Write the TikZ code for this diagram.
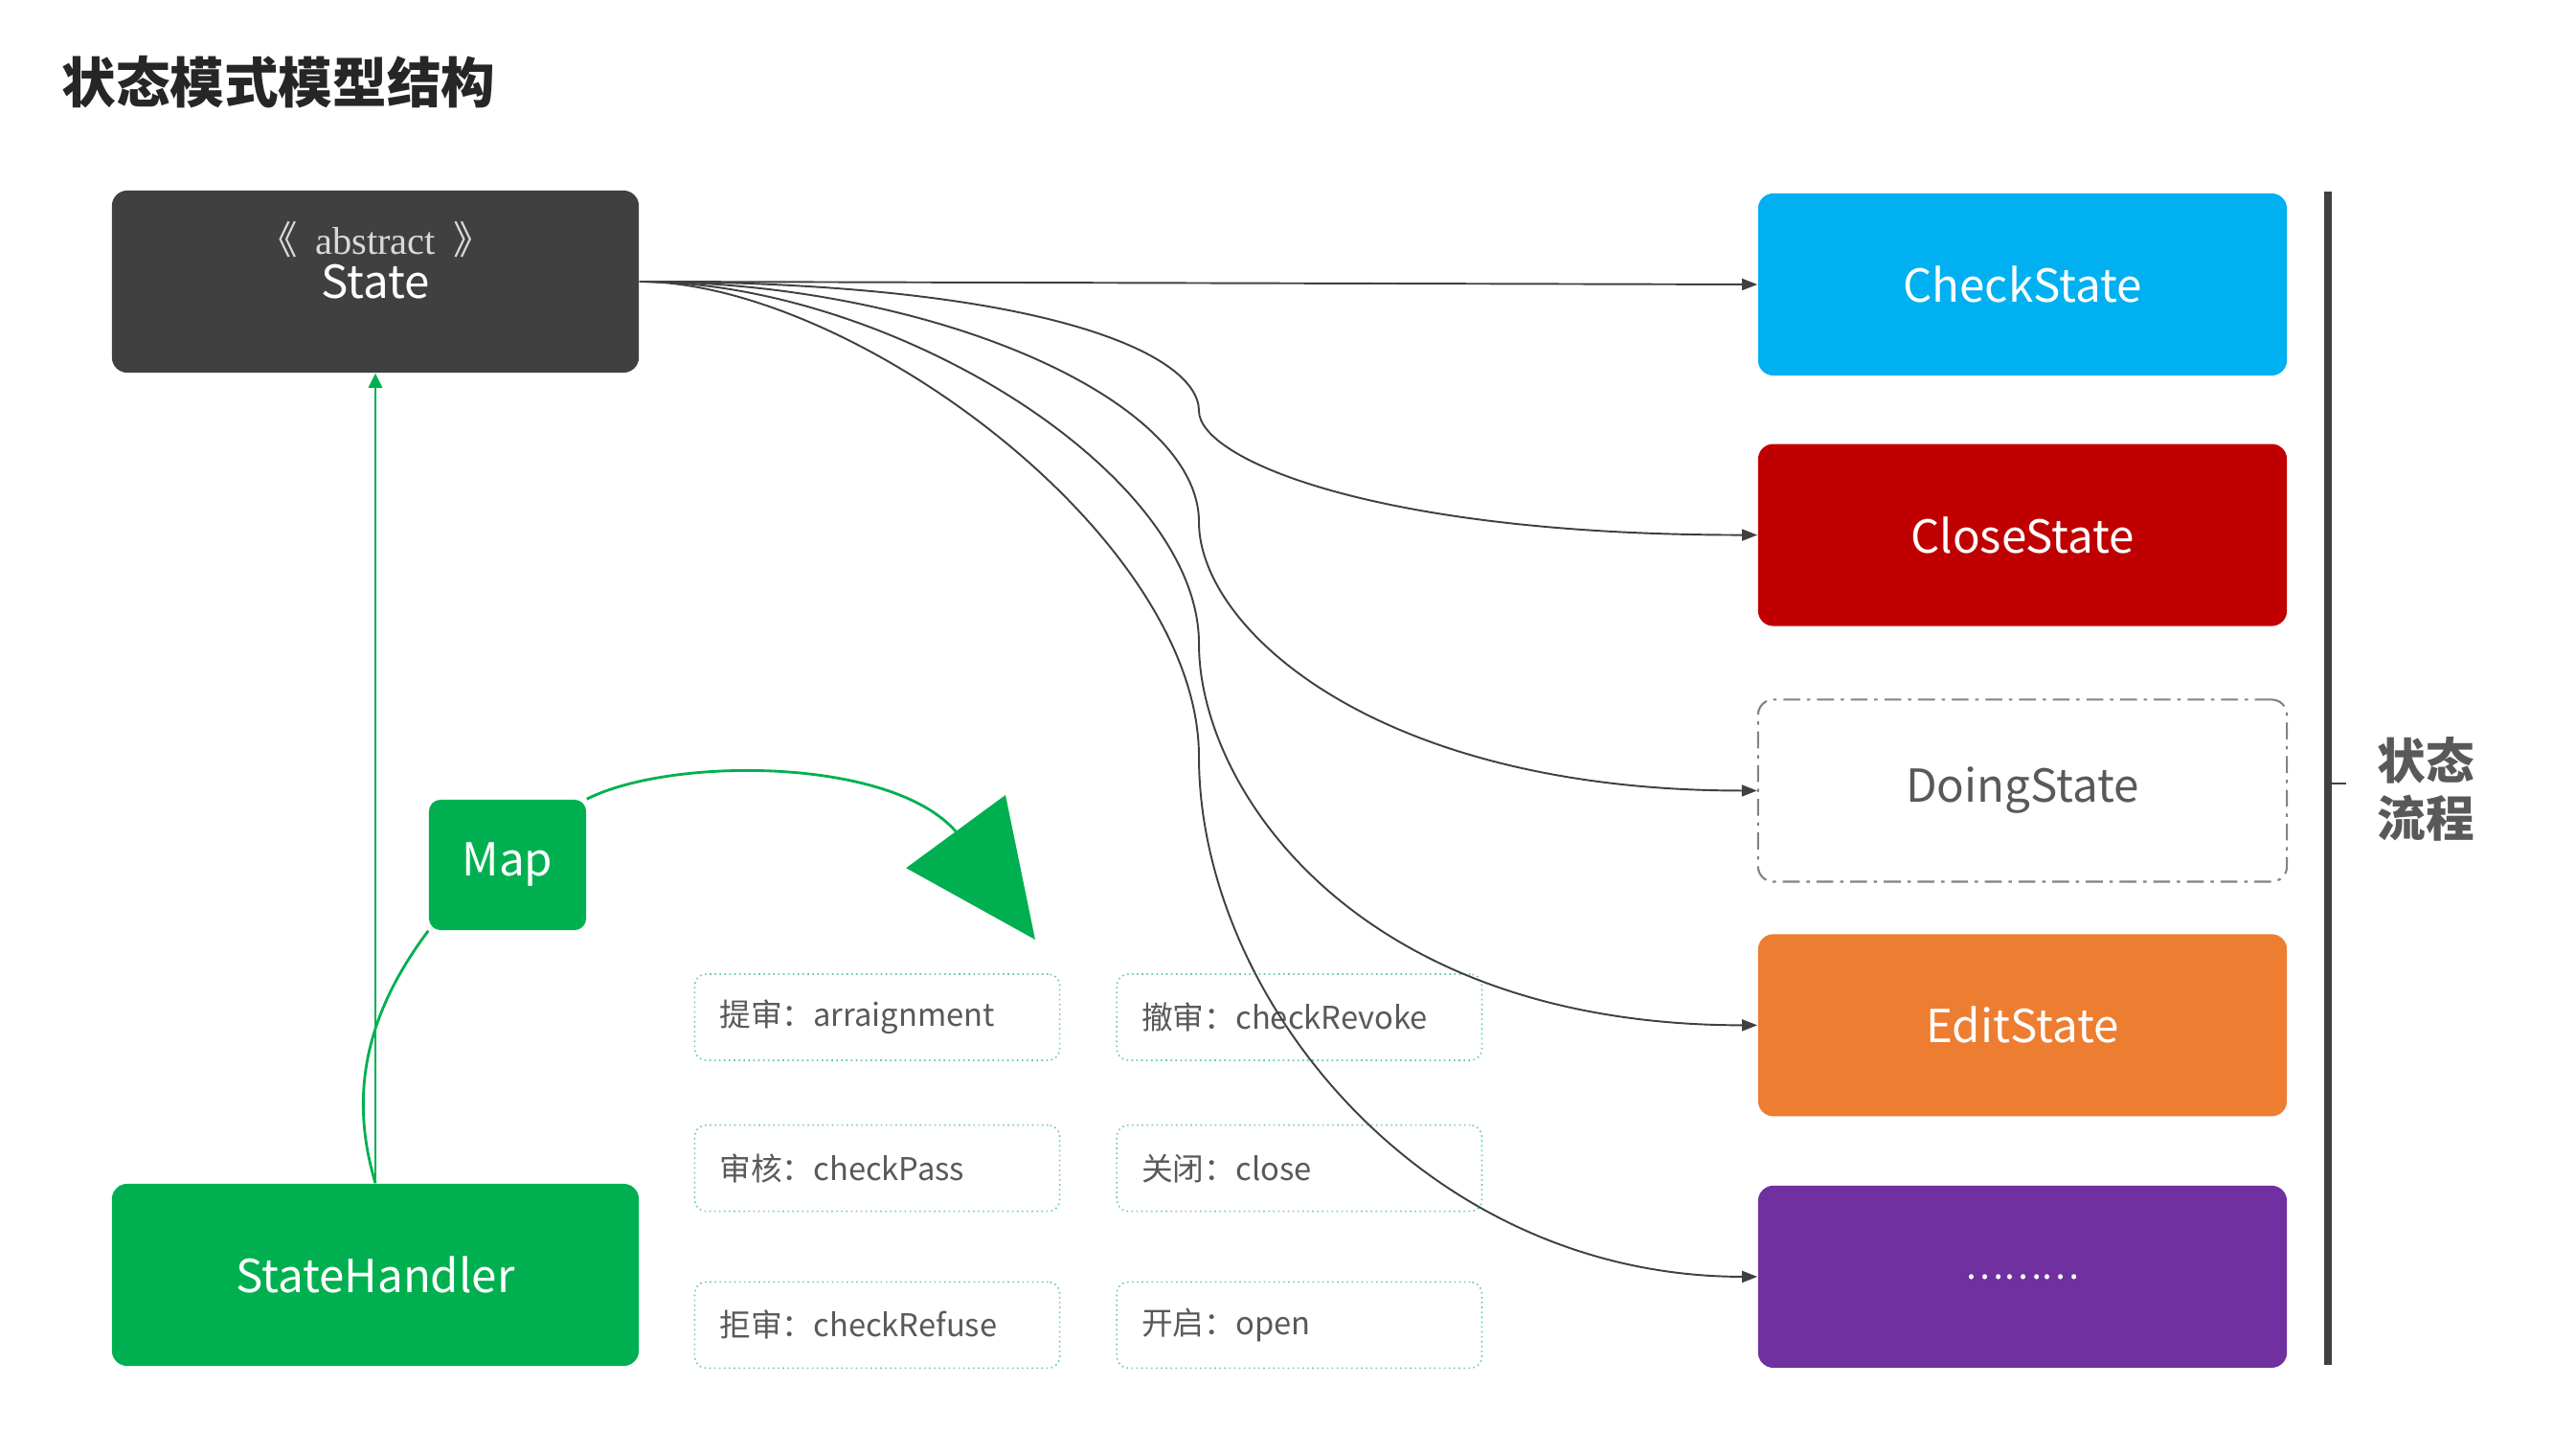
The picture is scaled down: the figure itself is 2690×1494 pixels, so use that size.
\documentclass[tikz,border=0pt]{standalone}
\usepackage{fontspec}
\setmainfont{Noto Sans CJK SC}
\newfontfamily\absfont{Liberation Serif}
\usetikzlibrary{positioning,arrows.meta}
\definecolor{SMDark}{HTML}{404040}
\definecolor{SMText}{HTML}{595959}
\definecolor{SMTitle}{HTML}{262626}
\definecolor{SMBlue}{HTML}{00B0F0}
\definecolor{SMRed}{HTML}{C00000}
\definecolor{SMOrange}{HTML}{ED7D31}
\definecolor{SMPurple}{HTML}{7030A0}
\definecolor{SMGreen}{HTML}{00B050}
\tikzset{
  smbox/.style={
    rectangle,
    rounded corners=0.16cm,
    minimum width=5.52cm,
    minimum height=1.9cm,
    align=center,
    inner sep=0pt,
    text=white,
    font=\fontsize{13.5}{16}\selectfont
  },
  smdark/.style={smbox,fill=SMDark,minimum width=5.5cm},
  smblue/.style={smbox,fill=SMBlue},
  smred/.style={smbox,fill=SMRed},
  smorange/.style={smbox,fill=SMOrange},
  smpurple/.style={smbox,fill=SMPurple},
  smgreen/.style={smbox,fill=SMGreen,minimum width=5.5cm},
  smdoing/.style={smbox,fill=white,text=SMText,draw=SMText!75,line width=0.6pt,
    dash pattern=on 5pt off 2pt on 1pt off 2pt},
  smop/.style={
    rectangle,
    rounded corners=0.12cm,
    draw=SMGreen!60,
    densely dotted,
    line width=0.45pt,
    minimum height=0.9cm,
    text width=3.29cm,
    inner xsep=0.26cm,
    align=left,
    text=SMText,
    font=\fontsize{9.3}{11}\selectfont
  },
  smarrow/.style={-{Triangle[length=1.6mm,width=1.2mm]},line width=0.55pt,draw=SMDark},
  smgreenline/.style={line width=0.8pt,draw=SMGreen},
  smtitle/.style={font=\fontsize{16.1}{19}\bfseries\selectfont,text=SMTitle},
}

\begin{document}
\begin{tikzpicture}[x=0.01cm,y=-0.01cm]
  \useasboundingbox (0,0) rectangle (2690,1494);

  \node[smtitle,anchor=west] (title) at (52,86) {状态模式模型结构};

  % abstract state and its handler
  \node[smdark] (state) at (392,294) {State};
  \node[font=\fontsize{11.5}{13}\selectfont,text=white!85!black] (abstag)
    at (392,250) {《\hspace{0.45em}\absfont abstract\hspace{0.45em}\normalfont 》};
  \node[smgreen] (handler) at (392,1331) {StateHandler};
  \node[smbox,fill=SMGreen,minimum width=1.64cm,minimum height=1.36cm,rounded corners=0.12cm] (map)
    at (530,903) {Map};

  % concrete states
  \node[smblue] (check) at (2112,297) {CheckState};
  \node[smred,below=0.70cm of check] (close) {CloseState};
  \node[smdoing,below=0.75cm of close] (doing) {DoingState};
  \node[smorange,below=0.53cm of doing] (edit) {EditState};
  \node[smpurple,below=0.71cm of edit,font=\fontsize{10.7}{12}\selectfont] (more) {………};

  % operations
  \node[smop] (arraign) at (916,1062) {提审：arraignment};
  \node[smop,right=0.58cm of arraign] (revoke) {撤审：checkRevoke};
  \node[smop,below=0.66cm of arraign] (pass) {审核：checkPass};
  \node[smop,right=0.58cm of pass] (closeop) {关闭：close};
  \node[smop,below=0.72cm of pass] (refuse) {拒审：checkRefuse};
  \node[smop,right=0.58cm of refuse] (open) {开启：open};

  % flow bar
  \coordinate (barTop) at (2431,200);
  \coordinate (barBot) at (2431,1425);
  \coordinate (barMid) at (2431,818);
  \coordinate (barTick) at (2450,818);
  \draw[line width=2.3pt,SMDark] (barTop) -- (barBot);
  \draw[line width=0.5pt,SMDark] (barMid) -- (barTick);
  \node[font=\fontsize{14.4}{17}\bfseries\selectfont,text=SMText,align=center] (flow)
    at (2533,824) {状态\\流程};

  % connectors
  \coordinate (kinkClose) at (1252,429);
  \coordinate (kinkDoing) at (1252,545);
  \coordinate (kinkEdit) at (1252,672);
  \coordinate (kinkMore) at (1252,790);
  \draw[smarrow] (state.east) -- (check.west);
  \draw[smarrow] (state.east) .. controls +(420,0) and +(0,-60) .. (kinkClose)
    .. controls +(0,50) and +(-400,0) .. (close.west);
  \draw[smarrow] (state.east) .. controls +(300,0) and +(0,-130) .. (kinkDoing)
    .. controls +(0,110) and +(-400,0) .. (doing.west);
  \draw[smarrow] (state.east) .. controls +(260,0) and +(0,-180) .. (kinkEdit)
    .. controls +(0,150) and +(-420,0) .. (edit.west);
  \draw[smarrow] (state.east) .. controls +(220,0) and +(0,-230) .. (kinkMore)
    .. controls +(0,250) and +(-350,0) .. (more.west);

  % handler to state, handler to map
  \draw[smgreenline,-{Triangle[length=1.5mm,width=1.4mm]}] (handler.north) -- (state.south);
  \draw[smgreenline] (handler.north) .. controls +(-30,-100) and +(-60,80) .. (map.south west);
  \coordinate (arcEnd) at (998,868);
  \coordinate (mapTip) at (1081,981);
  \draw[smgreenline,-{Triangle[length=14mm,width=12.8mm]}]
    (map.north east) .. controls (700,790) and (930,790) .. (arcEnd) -- (mapTip);
\end{tikzpicture}
\end{document}
